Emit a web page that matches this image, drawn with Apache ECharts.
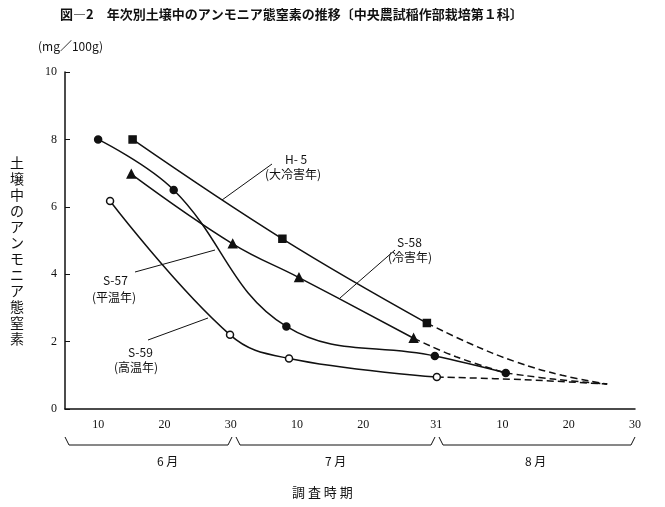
<!DOCTYPE html>
<html><head><meta charset="utf-8">
<script src="https://cdn.jsdelivr.net/npm/echarts@6/dist/echarts.min.js"></script>
<style>body{margin:0;background:#fff}#c{width:665px;height:507px}</style>
</head><body><div id="c"></div>
<script>
// x = days counted from June 1 (July 10 = 40, Aug 10 = 71)
var h5 = [[15.2, 8.0], [37.8, 5.05], [59.6, 2.55]];
var h5Dash = [[59.6, 2.55], [66, 1.95], [73, 1.4], [80, 1.0], [86.8, 0.74]];
var s58 = [[15, 6.97], [30.3, 4.9], [40.3, 3.9], [57.6, 2.1]];
var s58Dash = [[57.6, 2.1], [64, 1.55], [71.5, 1.07]];
var s57 = [[10, 8.0], [21.4, 6.5], [38.4, 2.45], [60.8, 1.57], [71.5, 1.07]];
var s57Dash = [[71.5, 1.07], [79, 0.88], [86.8, 0.74]];
var s59 = [[11.8, 6.17], [29.9, 2.2], [38.8, 1.5], [61.1, 0.95]];
var s59Dash = [[61.1, 0.95], [74, 0.87], [86.8, 0.74]];
var xTickLabels = {10: '10', 20: '20', 30: '30', 40: '10', 50: '20', 61: '31', 71: '10', 81: '20', 91: '30'};

var font = '"Noto Sans CJK JP", serif';
function solid(d, sym, fill) {
  return {type: 'line', data: d, smooth: 0.4, symbol: sym, symbolSize: sym === 'triangle' ? 8 : 7,
    lineStyle: {color: '#111', width: 1.5}, itemStyle: {color: fill, borderColor: '#111', borderWidth: 1.5}};
}
function dashed(d) {
  return {type: 'line', data: d, smooth: 0.4, symbol: 'none', lineStyle: {color: '#111', width: 1.5, type: [7, 4]}};
}
function txt(x, y, s, size, bold) {
  return {type: 'text', left: x, top: y, style: {text: s, font: (bold ? 'bold ' : '') + (size || 12) + 'px ' + font, fill: '#111'}};
}
function ln(x1, y1, x2, y2) {
  return {type: 'line', shape: {x1: x1, y1: y1, x2: x2, y2: y2}, style: {stroke: '#111', lineWidth: 1}};
}
function brace(x1, x2, y) {
  return {type: 'polyline', shape: {points: [[x1, y - 8], [x1 + 4, y], [x2 - 4, y], [x2, y - 8]]}, style: {stroke: '#111', fill: 'none', lineWidth: 1}};
}

var chart = echarts.init(document.getElementById('c'));
chart.setOption({
  animation: false,
  grid: {left: 65, right: 30, top: 72, bottom: 98},
  xAxis: {type: 'value', min: 5, max: 91, interval: 1,
    axisLine: {lineStyle: {color: '#111', width: 1.5}}, axisTick: {show: false}, splitLine: {show: false},
    axisLabel: {color: '#111', fontSize: 12, fontFamily: 'serif', margin: 10,
      formatter: function (v) { return xTickLabels[v] || ''; }}},
  yAxis: {type: 'value', min: 0, max: 10, interval: 2,
    axisLine: {show: true, lineStyle: {color: '#111', width: 1.5}},
    axisTick: {show: true, inside: true, length: 5, lineStyle: {color: '#111'}}, splitLine: {show: false},
    axisLabel: {color: '#111', fontSize: 12, fontFamily: 'serif'}},
  series: [solid(h5, 'rect', '#111'), dashed(h5Dash), solid(s58, 'triangle', '#111'), dashed(s58Dash),
    solid(s57, 'circle', '#111'), dashed(s57Dash), solid(s59, 'circle', '#fff'), dashed(s59Dash)],
  graphic: [
    txt(60, 8, '図―2　年次別土壌中のアンモニア態窒素の推移〔中央農試稲作部栽培第１科〕', 13, true),
    txt(38, 40, '(mg／100g)', 12),
    {type: 'text', left: 10, top: 155, style: {text: '土\n壌\n中\nの\nア\nン\nモ\nニ\nア\n態\n窒\n素', font: '14px ' + font, lineHeight: 16, fill: '#111'}},
    txt(285, 153, 'H- 5'), txt(265, 168, '(大冷害年)'),
    txt(397, 236, 'S-58'), txt(388, 251, '(冷害年)'),
    txt(103, 274, 'S-57'), txt(92, 291, '(平温年)'),
    txt(128, 346, 'S-59'), txt(114, 361, '(高温年)'),
    ln(272, 164, 222, 200), ln(395, 250, 340, 298),
    ln(215, 250, 135, 272), ln(208, 318, 148, 340),
    brace(65, 232, 445), brace(236, 435, 445), brace(439, 635, 445),
    txt(157, 455, '6 月'), txt(325, 455, '7 月'), txt(525, 455, '8 月'),
    txt(292, 486, '調 査 時 期', 13)
  ]
});
</script></body></html>
